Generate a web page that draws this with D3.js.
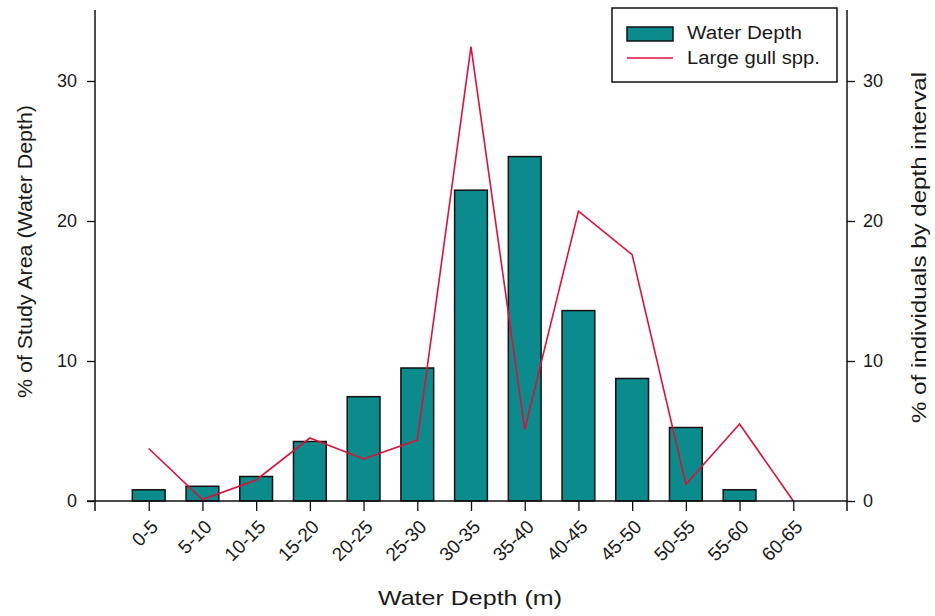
<!DOCTYPE html>
<html>
<head>
<meta charset="utf-8">
<script src="https://cdn.jsdelivr.net/npm/d3@7"></script>
<style>
  body { margin: 0; background: #fff; }
  text { font-family: Arial, "Liberation Sans", sans-serif; fill: #1a1a1a; }
</style>
</head>
<body>
<svg id="chart" width="935" height="616"></svg>
<script>
const categories = ["0-5","5-10","10-15","15-20","20-25","25-30","30-35","35-40","40-45","45-50","50-55","55-60","60-65"];
const waterDepth = [0.8, 1.05, 1.75, 4.25, 7.45, 9.5, 22.2, 24.6, 13.6, 8.75, 5.25, 0.8, 0];
const largeGull = [3.75, 0.1, 1.5, 4.5, 3.0, 4.35, 32.45, 5.1, 20.7, 17.6, 1.2, 5.5, 0];
const leftTicks = [0, 10, 20, 30];
const rightTicks = [0, 10, 20, 30];

(function () {
const svg = d3.select("#chart");
const mLeft = 95, mRight = 847, mTop = 10, mBottom = 501;

const x = d3.scaleLinear().domain([0, categories.length + 1]).range([mLeft, mRight]);
const yL = d3.scaleLinear().domain([0, 35.07]).range([mBottom, mTop]);
const yR = d3.scaleLinear().domain([0, 35.07]).range([mBottom, mTop]);
const step = x(1) - x(0);
const barW = step * 0.61;

const barData = waterDepth.map((v, i) => ({ v, i })).filter(d => d.v > 0);

// bars
svg.append("g").selectAll("rect").data(barData).join("rect")
  .attr("x", d => x(d.i + 1) - barW / 2)
  .attr("y", d => yL(d.v))
  .attr("width", barW)
  .attr("height", d => yL(0) - yL(d.v))
  .attr("fill", "#0b8b8b")
  .attr("stroke", "#111")
  .attr("stroke-width", 1.5);

// line
const line = d3.line().x((d, i) => x(i + 1)).y(d => yR(d));
svg.append("path").datum(largeGull)
  .attr("d", line)
  .attr("fill", "none")
  .attr("stroke", "#e0103c")
  .attr("stroke-width", 1.6);

const axisColor = "#111";
// left axis
const gL = svg.append("g").attr("transform", `translate(${mLeft},0)`)
  .call(d3.axisLeft(yL).tickValues(leftTicks).tickSize(8).tickPadding(10).tickFormat(d3.format("d")));
gL.select(".domain").remove();
gL.append("line").attr("x1", 0).attr("x2", 0).attr("y1", mTop).attr("y2", mBottom + 10).attr("stroke", axisColor).attr("stroke-width", 1.5);
// right axis
const gR = svg.append("g").attr("transform", `translate(${mRight},0)`)
  .call(d3.axisRight(yR).tickValues(rightTicks).tickSize(8).tickPadding(8).tickFormat(d3.format("d")));
gR.select(".domain").remove();
gR.append("line").attr("x1", 0).attr("x2", 0).attr("y1", mTop).attr("y2", mBottom + 10).attr("stroke", axisColor).attr("stroke-width", 1.5);
[gL, gR].forEach(g => {
  g.selectAll(".tick line").attr("stroke", axisColor).attr("stroke-width", 1.3);
  g.selectAll(".tick text").style("font-size", "18px").attr("fill", "#222")
    .style("font-family", "Arial, 'Liberation Sans', sans-serif");
});

// bottom axis
const gB = svg.append("g").attr("transform", `translate(0,${mBottom})`)
  .call(d3.axisBottom(x).tickValues(d3.range(1, categories.length + 1)).tickSize(10)
    .tickFormat(d => categories[d - 1]));
gB.select(".domain").remove();
gB.append("line").attr("x1", mLeft - 8).attr("x2", mRight).attr("y1", 0).attr("y2", 0).attr("stroke", axisColor).attr("stroke-width", 1.5);
gB.selectAll(".tick line").attr("stroke", axisColor).attr("stroke-width", 1.3);
gB.selectAll(".tick text")
  .style("font-size", "19px")
  .style("font-family", "Arial, 'Liberation Sans', sans-serif")
  .attr("fill", "#222")
  .attr("text-anchor", "end")
  .attr("dy", "0")
  .attr("transform", "translate(10,27) rotate(-45)")
  .attr("x", 0).attr("y", 0);

// axis titles
svg.append("text").attr("x", 470).attr("y", 605).attr("text-anchor", "middle")
  .attr("textLength", 184).attr("lengthAdjust", "spacingAndGlyphs")
  .style("font-size", "21px").text("Water Depth (m)");
svg.append("text").attr("transform", "translate(32,251.5) rotate(-90)").attr("text-anchor", "middle")
  .attr("textLength", 293).attr("lengthAdjust", "spacingAndGlyphs")
  .style("font-size", "21px").text("% of Study Area (Water Depth)");
svg.append("text").attr("transform", "translate(926,247.5) rotate(-90)").attr("text-anchor", "middle")
  .attr("textLength", 351).attr("lengthAdjust", "spacingAndGlyphs")
  .style("font-size", "20px").text("% of individuals by depth interval");

// legend
const lg = svg.append("g");
lg.append("rect").attr("x", 612).attr("y", 8).attr("width", 225).attr("height", 74)
  .attr("fill", "#fff").attr("stroke", "#111").attr("stroke-width", 1.5);
lg.append("rect").attr("x", 627).attr("y", 27).attr("width", 46).attr("height", 14)
  .attr("fill", "#0b8b8b").attr("stroke", "#111").attr("stroke-width", 1.5);
lg.append("line").attr("x1", 627).attr("x2", 673).attr("y1", 58).attr("y2", 58)
  .attr("stroke", "#e0103c").attr("stroke-width", 1.6);
lg.append("text").attr("x", 687).attr("y", 39).attr("textLength", 115).attr("lengthAdjust", "spacingAndGlyphs")
  .style("font-size", "18px").text("Water Depth");
lg.append("text").attr("x", 687).attr("y", 64).attr("textLength", 133).attr("lengthAdjust", "spacingAndGlyphs")
  .style("font-size", "18px").text("Large gull spp.");
})();
</script>
</body>
</html>
